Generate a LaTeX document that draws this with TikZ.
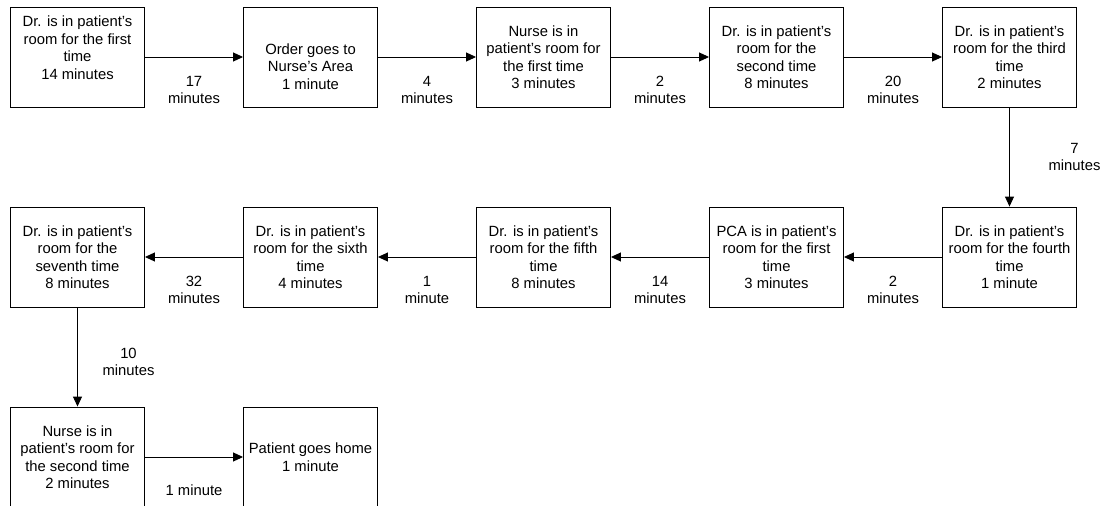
\documentclass[tikz,border=0pt]{standalone}
\usepackage{fontspec}
\setmainfont{Liberation Sans}
\usepackage{tikz}
\usetikzlibrary{arrows.meta}
\tikzstyle{visit} = [rectangle, draw, line width=0.9pt, fill=white, minimum width=134pt, minimum height=100pt, align=center, inner sep=0pt, font=\fontsize{14.8}{17.5}\selectfont]
\tikzstyle{gap} = [align=center, inner sep=0pt, font=\fontsize{14.8}{17.5}\selectfont]

\begin{document}
\begin{tikzpicture}[->,>={Triangle[length=10pt,width=9pt]},x=1pt,y=1pt,node distance=233pt,line width=0.9pt]
  \useasboundingbox (0,0) rectangle (1112,-506);
  \node[visit] (D1) at (77.5,-57) {Dr. is in patient’s\\room for the first\\time\\14 minutes\\[-4pt]\strut};
  \node[visit] (OR) [right of=D1] {\strut\\Order goes to\\Nurse’s Area\\1 minute};
  \node[visit] (N1) [right of=OR] {Nurse is in\\patient’s room for\\the first time\\3 minutes};
  \node[visit] (D2) [right of=N1] {Dr. is in patient’s\\room for the\\second time\\8 minutes};
  \node[visit] (D3) [right of=D2] {Dr. is in patient’s\\room for the third\\time\\2 minutes};
  \node[visit] (D4) [below of=D3, node distance=200pt] {Dr. is in patient’s\\room for the fourth\\time\\1 minute};
  \node[visit] (PCA) [left of=D4] {PCA is in patient’s\\room for the first\\time\\3 minutes};
  \node[visit] (D5) [left of=PCA] {Dr. is in patient’s\\room for the fifth\\time\\8 minutes};
  \node[visit] (D6) [left of=D5] {Dr. is in patient’s\\room for the sixth\\time\\4 minutes};
  \node[visit] (D7) [left of=D6] {Dr. is in patient’s\\room for the\\seventh time\\8 minutes};
  \node[visit] (N2) [below of=D7, node distance=200pt] {Nurse is in\\patient’s room for\\the second time\\2 minutes};
  \node[visit] (H) [right of=N2] {Patient goes home\\1 minute};

  \path (D1) edge node[gap, yshift=-33pt] {17\\minutes} (OR);
  \path (OR) edge node[gap, yshift=-33pt] {4\\minutes} (N1);
  \path (N1) edge node[gap, yshift=-33pt] {2\\minutes} (D2);
  \path (D2) edge node[gap, yshift=-33pt] {20\\minutes} (D3);
  \path (D3) edge node[gap, xshift=65pt] {7\\minutes} (D4);
  \path (D4) edge node[gap, yshift=-33pt] {2\\minutes} (PCA);
  \path (PCA) edge node[gap, yshift=-33pt] {14\\minutes} (D5);
  \path (D5) edge node[gap, yshift=-33pt] {1\\minute} (D6);
  \path (D6) edge node[gap, yshift=-33pt] {32\\minutes} (D7);
  \path (D7) edge node[gap, xshift=51pt, yshift=-5pt] {10\\minutes} (N2);
  \path (N2) edge node[gap, yshift=-33pt] {1 minute} (H);
\end{tikzpicture}
\end{document}
